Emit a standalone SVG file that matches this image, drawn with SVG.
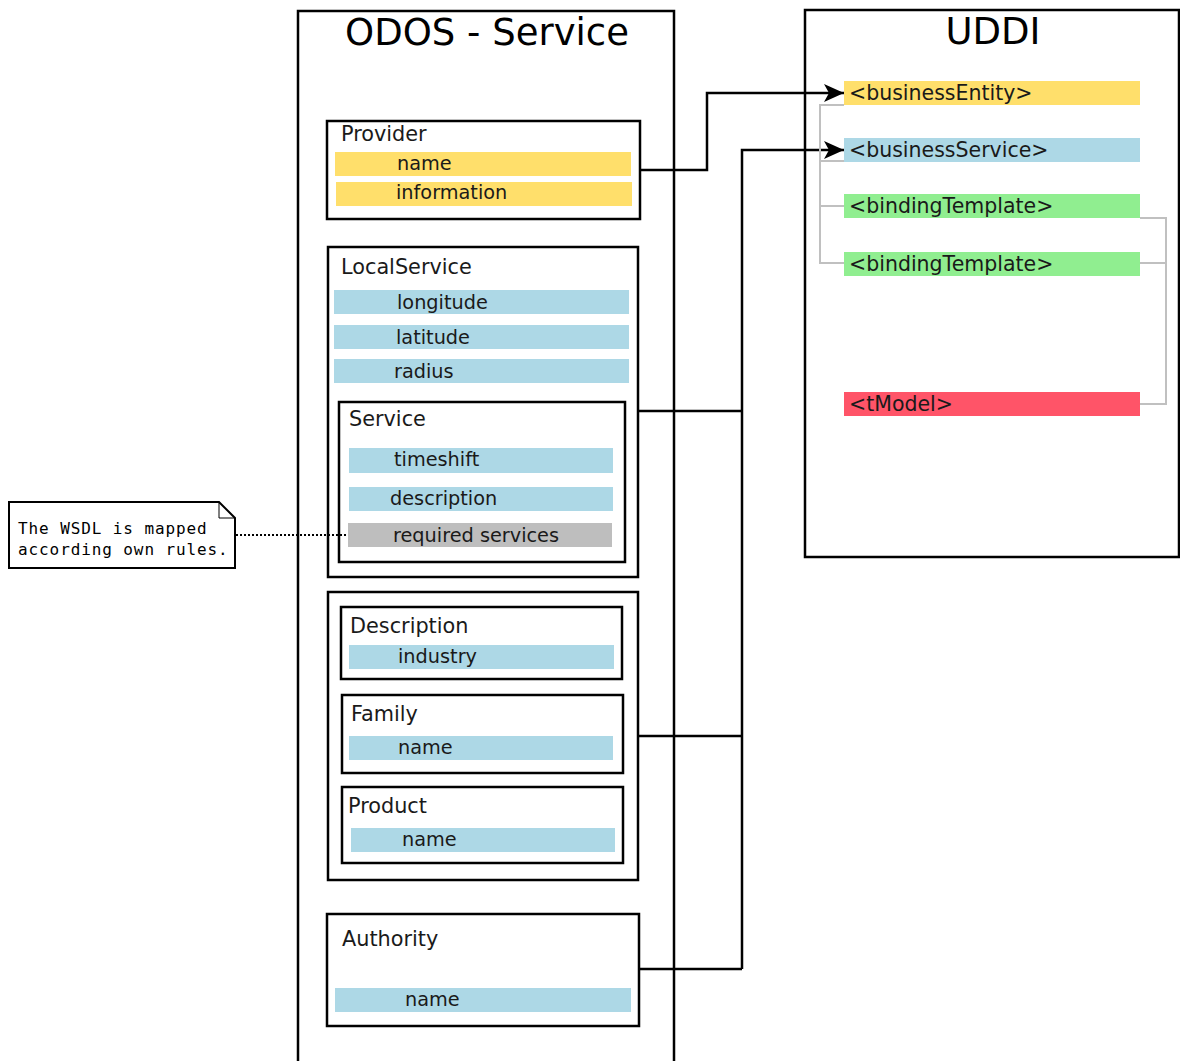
<svg xmlns="http://www.w3.org/2000/svg" width="1180" height="1061" viewBox="0 0 1180 1061">
<style>
.box{fill:#fff;stroke:#000;stroke-width:2.5}
.t{font-family:"DejaVu Sans",sans-serif;fill:#1a1a1a}
.h{font-size:20.8px}
.b{font-size:19.3px}
.u{font-size:20.5px}
.title{font-size:37px;fill:#000}
.mono{font-family:"DejaVu Sans Mono","Liberation Mono",monospace;font-size:16px;letter-spacing:0.9px;fill:#000}
.gold{fill:#ffdf6b}
.blue{fill:#add8e6}
.green{fill:#90ee90}
.red{fill:#ff5468}
.grey{fill:#bebebe}
.con{fill:none;stroke:#000;stroke-width:2.5}
.gcon{fill:none;stroke:#c0c0c0;stroke-width:2}
</style>
<defs>
<marker id="arrow" viewBox="0 0 20 20" refX="20" refY="10" markerWidth="20" markerHeight="20" markerUnits="userSpaceOnUse" orient="auto">
<path d="M0,1 L20,10 L0,19 L5,10 z" fill="#000"/>
</marker>
</defs>

<g id="odos">
<rect class="box" x="298" y="11" width="376" height="1070"/>
<text class="t title" x="487" y="45" text-anchor="middle">ODOS - Service</text>
</g>

<g id="uddi">
<rect class="box" x="805" y="10" width="374" height="547"/>
<text class="t title" x="993" y="44" text-anchor="middle">UDDI</text>
</g>

<g id="provider">
<rect class="box" x="327" y="121" width="313" height="98"/>
<text class="t h" x="341" y="141">Provider</text>
<rect class="gold" x="335" y="152" width="296" height="24"/>
<text class="t b" x="397" y="170">name</text>
<rect class="gold" x="336" y="182" width="296" height="24"/>
<text class="t b" x="396" y="199">information</text>
</g>

<g id="localservice">
<rect class="box" x="328" y="247" width="310" height="330"/>
<text class="t h" x="341" y="274">LocalService</text>
<rect class="blue" x="334" y="290" width="295" height="24"/>
<text class="t b" x="397" y="309">longitude</text>
<rect class="blue" x="334" y="325" width="295" height="24"/>
<text class="t b" x="396" y="344">latitude</text>
<rect class="blue" x="334" y="359" width="295" height="24"/>
<text class="t b" x="394" y="378">radius</text>
</g>

<g id="service">
<rect class="box" x="339" y="402" width="286" height="160"/>
<text class="t h" x="349" y="426">Service</text>
<rect class="blue" x="349" y="448" width="264" height="25"/>
<text class="t b" x="394" y="466">timeshift</text>
<rect class="blue" x="349" y="487" width="264" height="24"/>
<text class="t b" x="390" y="505">description</text>
<rect class="grey" x="348" y="523" width="264" height="24"/>
<text class="t b" x="393" y="542">required services</text>
</g>

<g id="classification">
<rect class="box" x="328" y="592" width="310" height="288"/>
</g>

<g id="description">
<rect class="box" x="341" y="607" width="281" height="72"/>
<text class="t h" x="350" y="633">Description</text>
<rect class="blue" x="349" y="645" width="265" height="24"/>
<text class="t b" x="398" y="663">industry</text>
</g>

<g id="family">
<rect class="box" x="342" y="695" width="281" height="78"/>
<text class="t h" x="351" y="721">Family</text>
<rect class="blue" x="349" y="736" width="264" height="24"/>
<text class="t b" x="398" y="754">name</text>
</g>

<g id="product">
<rect class="box" x="342" y="787" width="281" height="76"/>
<text class="t h" x="348" y="813">Product</text>
<rect class="blue" x="351" y="828" width="264" height="24"/>
<text class="t b" x="402" y="846">name</text>
</g>

<g id="authority">
<rect class="box" x="327" y="914" width="312" height="112"/>
<text class="t h" x="342" y="946">Authority</text>
<rect class="blue" x="335" y="988" width="296" height="24"/>
<text class="t b" x="405" y="1006">name</text>
</g>

<g id="note">
<path d="M9,502 H219 L235,518 V568 H9 Z" fill="#fff" stroke="#000" stroke-width="2"/>
<path d="M219,502 V518 H235" fill="none" stroke="#000" stroke-width="1"/>
<text class="mono" x="18" y="534">The WSDL is mapped</text>
<text class="mono" x="18" y="555">according own rules.</text>
</g>

<g id="businessEntity">
<rect class="gold" x="844" y="81" width="296" height="24"/>
<text class="t u" x="849" y="100">&lt;businessEntity&gt;</text>
</g>
<g id="businessService">
<rect class="blue" x="844" y="138" width="296" height="24"/>
<text class="t u" x="849" y="157">&lt;businessService&gt;</text>
</g>
<g id="bindingTemplate1">
<rect class="green" x="844" y="194" width="296" height="24"/>
<text class="t u" x="849" y="213">&lt;bindingTemplate&gt;</text>
</g>
<g id="bindingTemplate2">
<rect class="green" x="844" y="252" width="296" height="24"/>
<text class="t u" x="849" y="271">&lt;bindingTemplate&gt;</text>
</g>
<g id="tModel">
<rect class="red" x="844" y="392" width="296" height="24"/>
<text class="t u" x="849" y="411">&lt;tModel&gt;</text>
</g>

<g id="connectors">
<path class="con" d="M640,170 H707 V93 H844" marker-end="url(#arrow)"/>
<path class="con" d="M742,969 V150 H844" marker-end="url(#arrow)"/>
<path class="con" d="M638,411 H742"/>
<path class="con" d="M638,736 H742"/>
<path class="con" d="M639,969 H742"/>
<path d="M236,535 H348" fill="none" stroke="#000" stroke-width="2" stroke-dasharray="2,2"/>
<path class="gcon" d="M844,105 H820 V263 H844"/>
<path class="gcon" d="M820,161 H844"/>
<path class="gcon" d="M820,206 H844"/>
<path class="gcon" d="M1140,218 H1166 V404 H1140"/>
<path class="gcon" d="M1140,263 H1166"/>
</g>
</svg>
